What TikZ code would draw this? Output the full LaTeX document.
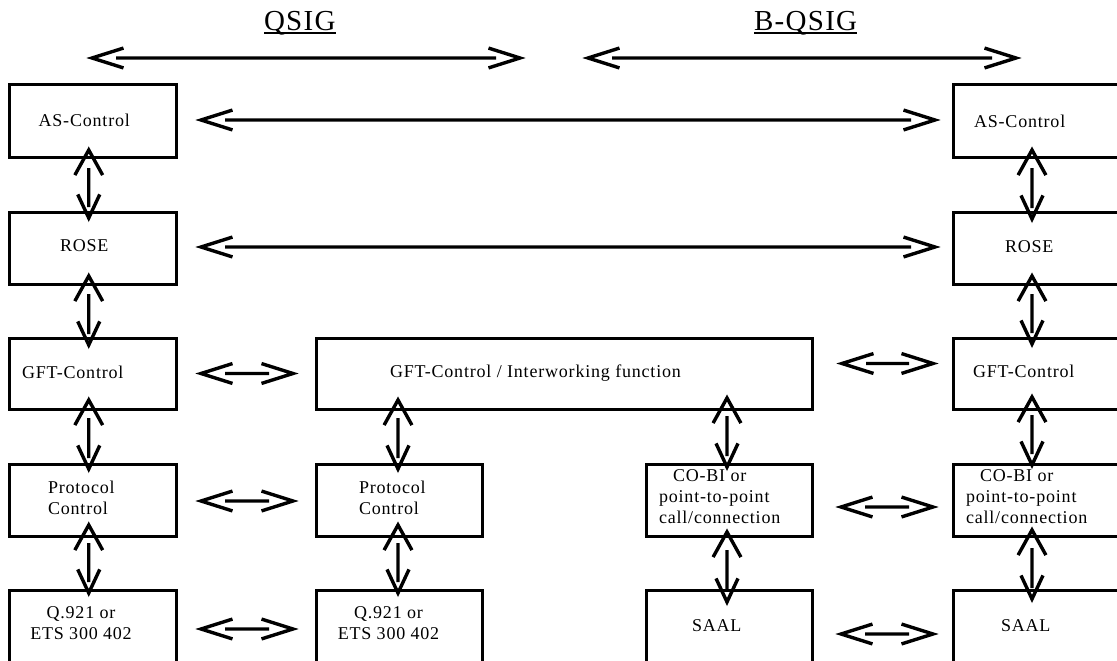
\documentclass[tikz,border=0pt]{standalone}
\usepackage{fontspec}
\setmainfont{Liberation Serif}[LetterSpace=4.5]
\usetikzlibrary{calc}
\begin{document}
\begin{tikzpicture}[x=1pt,y=-1pt,
  box/.style={draw, line width=3pt, inner sep=0pt, outer sep=0pt,
    minimum width=166pt, minimum height=72pt},
  lbl/.style={font=\fontsize{18}{21}\selectfont, inner sep=0pt, outer sep=0pt},
  ttl/.style={font=\fontsize{29}{34}\selectfont, inner sep=0pt, outer sep=0pt},
  % double-headed link with open heads and a shaft that stops short of both tips
  % #1,#2: shaft gaps at start/end; #3,#4: start head angle/arm; #5,#6: end head angle/arm
  dbl/.style n args={6}{line width=3.4pt, to path={
    ($(\tikztostart)!#1!(\tikztotarget)$) -- ($(\tikztotarget)!#2!(\tikztostart)$)
    ($(\tikztostart)!#4!#3:(\tikztotarget)$) -- (\tikztostart)
      -- ($(\tikztostart)!#4!-#3:(\tikztotarget)$)
    ($(\tikztotarget)!#6!#5:(\tikztostart)$) -- (\tikztotarget)
      -- ($(\tikztotarget)!#6!-#5:(\tikztostart)$)}},
  hl/.style={dbl={24pt}{24pt}{17.5}{33pt}{17.5}{33pt}},
  vl/.style={dbl={18pt}{11pt}{29}{28.7pt}{25}{26pt}}]

\fill[white] (0,0) rectangle (1117,661);
\useasboundingbox (0,0) rectangle (1117,661);
\clip (0,0) rectangle (1117,661);

% headings
\node[ttl, anchor=base west] (qsigT) at (264,31) {QSIG};
\node[ttl, anchor=base west] (bqsigT) at (754,31) {B-QSIG};
\draw[line width=1.8pt] ([yshift=-1.8pt]qsigT.base west) -- ([yshift=-1.8pt]qsigT.base east);
\draw[line width=1.8pt] ([yshift=-1.8pt]bqsigT.base west) -- ([yshift=-1.8pt]bqsigT.base east);

\coordinate (qa) at (92,58);
\coordinate (qb) at (520,58);
\coordinate (ba) at (588,58);
\coordinate (bb) at (1016,58);
\draw[hl] (qa) to (qb);
\draw[hl] (ba) to (bb);

% QSIG side
\node[box, minimum width=166.5pt] (asL) at (92.75,121) {};
\node[box, minimum width=166.5pt] (roseL) at (92.75,248) {};
\node[box, minimum width=166.5pt, minimum height=71pt] (gftL) at (92.75,373.5) {};
\node[box, minimum width=166.5pt] (pcL) at (92.75,500) {};
\node[box, minimum width=166.5pt, minimum height=76pt] (qL) at (92.75,628) {};

% interworking unit
\node[box, minimum width=496pt, minimum height=71pt] (gftM) at (564,373.5) {};
\node[box] (pcM) at (399,500) {};
\node[box, minimum height=76pt] (qM) at (399,628) {};
\node[box] (cobC) at (729,500) {};
\node[box, minimum height=76pt] (saalC) at (729,628) {};

% B-QSIG side
\node[box, minimum width=170pt] (asR) at (1038,121) {};
\node[box, minimum width=170pt] (roseR) at (1038,248) {};
\node[box, minimum width=170pt, minimum height=71pt] (gftR) at (1038,373.5) {};
\node[box, minimum width=170pt] (cobR) at (1038,500) {};
\node[box, minimum width=170pt, minimum height=76pt] (saalR) at (1038,628) {};

% labels
\node[lbl, anchor=base west] (asLt) at (38.6,126) {AS-Control};
\node[lbl, anchor=base west] (roseLt) at (60,251) {ROSE};
\node[lbl, anchor=base west] (gftLt) at (22,378) {GFT-Control};
\node[lbl, anchor=west, align=left] (pcLt) at (48,498) {Protocol\\Control};
\node[lbl, align=center] (qLt) at (81,623.4) {Q.921 or\\ETS 300 402};

\node[lbl, anchor=base west] (gftMt) at (390,377) {GFT-Control / Interworking function};
\node[lbl, anchor=west, align=left] (pcMt) at (359,498) {Protocol\\Control};
\node[lbl, align=center] (qMt) at (388.5,623.4) {Q.921 or\\ETS 300 402};
\node[lbl, anchor=west, align=left] (cobCt) at (659,497)
  {\hspace*{14pt}CO-BI or\\point-to-point\\call/connection};
\node[lbl, anchor=base west] (saalCt) at (692,631) {SAAL};

\node[lbl, anchor=base west] (asRt) at (974,127) {AS-Control};
\node[lbl, anchor=base west] (roseRt) at (1005,252) {ROSE};
\node[lbl, anchor=base west] (gftRt) at (973,377) {GFT-Control};
\node[lbl, anchor=west, align=left] (cobRt) at (966,497)
  {\hspace*{14pt}CO-BI or\\point-to-point\\call/connection};
\node[lbl, anchor=base west] (saalRt) at (1001,631) {SAAL};

% peer-to-peer links
\draw[hl] ([shift={(25pt,1pt)}]asL.east) to ([shift={(-18pt,1pt)}]asR.west);
\draw[hl] ([shift={(25pt,1pt)}]roseL.east) to ([shift={(-18pt,1pt)}]roseR.west);
\draw[hl] ([xshift=25pt]gftL.east) to ([xshift=-23pt]gftM.west);
\draw[hl] ([shift={(30pt,10pt)}]gftM.east) to ([shift={(-20pt,10pt)}]gftR.west);
\draw[hl] ([shift={(25pt,-1pt)}]pcL.east) to ([shift={(-23pt,-1pt)}]pcM.west);
\draw[hl] ([shift={(25pt,-1pt)}]qL.east) to ([shift={(-23pt,-1pt)}]qM.west);
\draw[hl] ([shift={(29pt,-7pt)}]cobC.east) to ([shift={(-20pt,-7pt)}]cobR.west);
\draw[hl] ([shift={(29pt,-6pt)}]saalC.east) to ([shift={(-20pt,-6pt)}]saalR.west);

% layer links
\draw[vl] ([shift={(-4pt,7pt)}]asL.south) to ([shift={(-4pt,-6pt)}]roseL.north);
\draw[vl] ([shift={(-4pt,8pt)}]roseL.south) to ([shift={(-4pt,-7pt)}]gftL.north);
\draw[vl] ([shift={(-4pt,9pt)}]gftL.south) to ([shift={(-4pt,-5pt)}]pcL.north);
\draw[vl] ([shift={(-4pt,11pt)}]pcL.south) to ([shift={(-4pt,-3pt)}]qL.north);

\draw[vl] ([shift={(82pt,9pt)}]gftM.south west) to ([shift={(-1pt,-5pt)}]pcM.north);
\draw[vl] ([shift={(-1pt,11pt)}]pcM.south) to ([shift={(-1pt,-3pt)}]qM.north);
\draw[vl] ([shift={(411pt,11pt)}]gftM.south west) to ([shift={(-2pt,-3pt)}]cobC.north);
\draw[vl] ([shift={(-2pt,4pt)}]cobC.south) to ([shift={(-2pt,-12pt)}]saalC.north);

\draw[vl] ([shift={(-6pt,7pt)}]asR.south) to ([shift={(-6pt,-7pt)}]roseR.north);
\draw[vl] ([shift={(-6pt,8pt)}]roseR.south) to ([shift={(-6pt,-6pt)}]gftR.north);
\draw[vl] ([shift={(-6pt,12pt)}]gftR.south) to ([shift={(-6pt,-1pt)}]cobR.north);
\draw[vl] ([shift={(-6pt,6pt)}]cobR.south) to ([shift={(-6pt,-9pt)}]saalR.north);
\end{tikzpicture}
\end{document}
